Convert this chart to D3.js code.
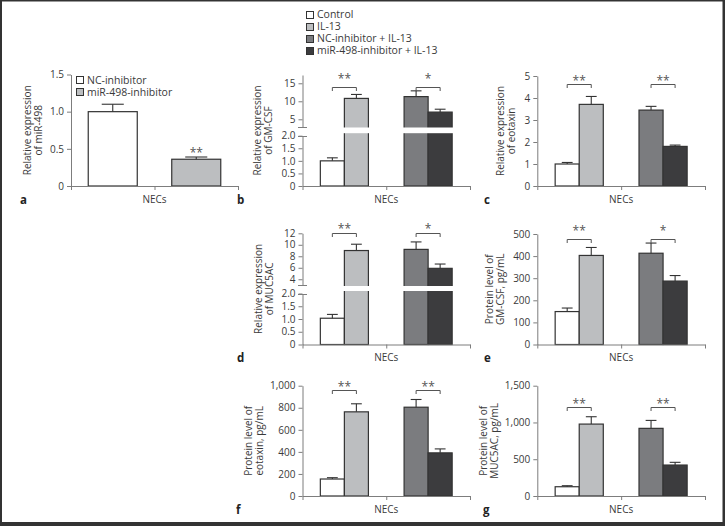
<!DOCTYPE html>
<html><head><meta charset="utf-8">
<script src="https://cdn.jsdelivr.net/npm/d3@7"></script>
<style>body{margin:0;background:#fff} svg{display:block} text{font-family:"Open Sans",sans-serif}</style>
</head><body><svg id="chart" width="725" height="526"></svg>
<script>
// ---------- data ----------
const categoriesA = ["NC-inhibitor", "miR-498-inhibitor"];
const categories = ["Control", "IL-13", "NC-inhibitor + IL-13", "miR-498-inhibitor + IL-13"];
const pairs = ["Control vs IL-13", "NC-inhibitor vs miR-498-inhibitor"];
const xLabel = "NECs";

const aMean = [1.0, 0.36], aErr = [0.10, 0.03];
const bMean = [1.0, 10.8, 11.3, 7.0], bErr = [0.12, 1.1, 1.6, 0.8];
const cMean = [1.0, 3.71, 3.45, 1.80], cErr = [0.07, 0.36, 0.17, 0.06];
const dMean = [1.03, 9.0, 9.2, 5.9], dErr = [0.15, 1.1, 1.3, 0.75];
const eMean = [149, 403, 413, 287], eErr = [16, 36, 46, 25];
const fMean = [154, 763, 805, 391], fErr = [12, 73, 70, 36];
const gMean = [126, 978, 920, 421], gErr = [14, 100, 108, 37];

const bSig = ["**", "*"], cSig = ["**", "**"], dSig = ["**", "*"];
const eSig = ["**", "*"], fSig = ["**", "**"], gSig = ["**", "**"];
const aSig = "**";

const ticksA = [0, 0.5, 1.0, 1.5];
const ticksLow = [0, 0.5, 1.0, 1.5, 2.0];
const ticksBHigh = [5, 10, 15];
const ticksC = [0, 1, 2, 3, 4, 5];
const ticksDHigh = [4, 6, 8, 10, 12];
const ticksE = [0, 100, 200, 300, 400, 500];
const ticksF = [0, 200, 400, 600, 800, 1000];
const ticksG = [0, 500, 1000, 1500];

// ---------- style ----------
const fillsA = ["#ffffff", "#bcbec0"];
const fills4 = ["#ffffff", "#bcbec0", "#7b7c7f", "#3c3c3e"];
const STROKE = "#333", AXIS = "#7d7d7d", TXT = "#3a3a3a";

const svg = d3.select("#chart");
svg.append("rect").attr("width", 725).attr("height", 526).attr("fill", "#333");
svg.append("rect").attr("x", 2).attr("y", 1.5).attr("width", 720.5).attr("height", 520.5).attr("fill", "#fff");

const dec1 = d => d === 0 ? "0" : d3.format(".1f")(d);
const intf = d3.format("d");
const comma = d3.format(",");

function styleAxis(sel) {
  sel.attr("font-family", null).attr("font-size", null);
  sel.select(".domain").attr("stroke", AXIS).attr("stroke-width", 1);
  sel.selectAll(".tick line").attr("stroke", AXIS);
  sel.selectAll(".tick text").attr("fill", TXT).style("font-size", "10px");
}

function panel(p) {
  const g = svg.append("g");
  const outer = d3.scaleBand().domain(p.groups).range([p.x0, p.x1]).paddingInner(p.pad).paddingOuter(p.pad / 2);
  const inner = d3.scaleBand().domain(d3.range(p.per)).range([0, outer.bandwidth()]);
  const bw = inner.bandwidth();
  const xOf = i => outer(p.groups[Math.floor(i / p.per)]) + inner(i % p.per);
  const cx = i => xOf(i) + bw / 2;

  let y, lo, hi, lin;
  if (p.brk) {
    lo = d3.scaleLinear().domain([0, 2]).range([p.y0, p.loTop]);
    hi = d3.scaleLinear().domain(p.hiDomain).range([p.hiBot, p.top]);
    y = v => v <= 2 ? lo(v) : hi(Math.max(v, p.hiDomain[0]));
  } else {
    lin = d3.scaleLinear().domain([0, p.max]).range([p.y0, p.top]);
    y = lin;
  }

  // bars
  g.append("g").selectAll("rect").data(p.mean).join("rect")
    .attr("x", (d, i) => xOf(i)).attr("y", d => y(d))
    .attr("width", bw).attr("height", d => p.y0 - y(d))
    .attr("fill", (d, i) => p.fills[i]).attr("stroke", STROKE).attr("stroke-width", 1.2);

  // error bars
  const eg = g.append("g").attr("stroke", STROKE).attr("stroke-width", 1.1).attr("fill", "none");
  const cap = bw * 0.45;
  p.mean.forEach((m, i) => {
    const yt = y(m + p.err[i]);
    eg.append("line").attr("x1", cx(i)).attr("x2", cx(i)).attr("y1", y(m)).attr("y2", yt);
    eg.append("line").attr("x1", cx(i) - cap / 2).attr("x2", cx(i) + cap / 2).attr("y1", yt).attr("y2", yt);
  });

  // break band
  if (p.brk) {
    g.append("rect").attr("x", p.x0 + 1).attr("width", p.x1 - p.x0)
      .attr("y", hi(p.hiDomain[0]) + 1).attr("height", lo(2) - 2.5 - hi(p.hiDomain[0]) - 1)
      .attr("fill", "#fff");
  }

  // y axes
  if (p.brk) {
    const aL = g.append("g").attr("transform", `translate(${p.x0},0)`)
      .call(d3.axisLeft(lo).tickValues(ticksLow).tickFormat(dec1).tickSize(4).tickSizeOuter(0).tickPadding(3));
    styleAxis(aL);
    const aH = g.append("g").attr("transform", `translate(${p.x0},0)`)
      .call(d3.axisLeft(hi).tickValues(p.hiTicks).tickFormat(intf).tickSize(4).tickSizeOuter(0).tickPadding(3));
    styleAxis(aH);
    // break marks
    [hi(p.hiDomain[0]), lo(2)].forEach(yy => {
      g.append("line").attr("x1", p.x0 - 4.5).attr("x2", p.x0 + 4.5)
        .attr("y1", Math.round(yy) + 0.5).attr("y2", Math.round(yy) + 0.5)
        .attr("stroke", AXIS);
    });
  } else {
    const aY = g.append("g").attr("transform", `translate(${p.x0},0)`)
      .call(d3.axisLeft(lin).tickValues(p.ticks).tickFormat(p.fmt).tickSize(4).tickSizeOuter(0).tickPadding(3));
    styleAxis(aY);
  }

  // x axis
  const xs = d3.scaleLinear().domain([0, 1]).range([p.x0, p.x1]);
  const aX = g.append("g").attr("transform", `translate(0,${p.y0})`)
    .call(d3.axisBottom(xs).tickValues([0, 0.5, 1]).tickFormat("").tickSize(4).tickSizeOuter(0));
  styleAxis(aX);
  g.append("text").attr("x", (p.x0 + p.x1) / 2).attr("y", p.y0 + 16.5)
    .attr("text-anchor", "middle").attr("fill", TXT).style("font-size", "10px").text(xLabel);

  // y title
  const midY = (p.y0 + p.top) / 2;
  p.title.forEach((t, k) => {
    const xx = p.x0 + p.titleDx[k] + 3.5;
    g.append("text").attr("transform", `translate(${xx},${midY}) rotate(-90)`)
      .attr("text-anchor", "middle").attr("fill", TXT).style("font-size", "10px").text(t);
  });

  // panel letter
  g.append("text").attr("x", p.letterX).attr("y", p.y0 + 17.5)
    .attr("fill", "#222").style("font-size", "11.5px").style("font-weight", "bold").text(p.letter);

  // significance
  if (p.sig) {
    const yb = Math.round(y(p.bracket)) + 0.5;
    p.sig.forEach((s, k) => {
      const xa = cx(2 * k), xb = cx(2 * k + 1);
      g.append("path").attr("d", `M${xa},${yb + 3.5}V${yb}H${xb}V${yb + 3.5}`)
        .attr("fill", "none").attr("stroke", "#555").attr("stroke-width", 1);
      g.append("text").attr("x", (xa + xb) / 2).attr("y", yb + p.starDy)
        .attr("text-anchor", "middle").attr("fill", "#555").style("font-size", "12px").text(s);
    });
  }
  if (p.single) {
    const i = p.mean.length - 1;
    g.append("text").attr("x", cx(i)).attr("y", y(p.mean[i] + p.err[i]) - 0.5)
      .attr("text-anchor", "middle").attr("fill", "#555").style("font-size", "12px").text(p.single);
  }
}

const X1 = [71, 238], X2 = [302.5, 470], X3 = [537.3, 705];
const R1 = 186, R2 = 344.5, R3 = 496;
const pad4 = 0.426;

panel({ groups: categoriesA, per: 1, pad: 0.413, x0: X1[0], x1: X1[1], y0: R1, top: 74.5, max: 1.5,
  ticks: ticksA, fmt: dec1, mean: aMean, err: aErr, fills: fillsA,
  title: ["Relative expression", "of miR-498"], titleDx: [-44, -33], letter: "a", letterX: 20, single: aSig });

panel({ groups: pairs, per: 2, pad: pad4, x0: X2[0], x1: X2[1], y0: R1, top: 75, brk: true,
  loTop: 135.7, hiDomain: [3, 17.3], hiBot: 126.5, hiTicks: ticksBHigh,
  mean: bMean, err: bErr, fills: fills4, title: ["Relative expression", "of GM-CSF"], titleDx: [-45, -34],
  letter: "b", letterX: 237, sig: bSig, bracket: 14, starDy: -4.5 });

panel({ groups: pairs, per: 2, pad: pad4, x0: X3[0], x1: X3[1], y0: R1, top: 76, max: 5,
  ticks: ticksC, fmt: intf, mean: cMean, err: cErr, fills: fills4,
  title: ["Relative expression", "of eotaxin"], titleDx: [-37, -26], letter: "c", letterX: 484,
  sig: cSig, bracket: 4.62, starDy: 0 });

panel({ groups: pairs, per: 2, pad: pad4, x0: X2[0], x1: X2[1], y0: R2, top: 233.3, brk: true,
  loTop: 293.5, hiDomain: [3, 12], hiBot: 285, hiTicks: ticksDHigh,
  mean: dMean, err: dErr, fills: fills4, title: ["Relative expression", "of MUC5AC"], titleDx: [-44, -33],
  letter: "d", letterX: 237, sig: dSig, bracket: 12, starDy: -0.5 });

panel({ groups: pairs, per: 2, pad: pad4, x0: X3[0], x1: X3[1], y0: R2, top: 234, max: 500,
  ticks: ticksE, fmt: intf, mean: eMean, err: eErr, fills: fills4,
  title: ["Protein level of", "GM-CSF, pg/mL"], titleDx: [-48, -37], letter: "e", letterX: 484,
  sig: eSig, bracket: 478, starDy: -4.5 });

panel({ groups: pairs, per: 2, pad: pad4, x0: X2[0], x1: X2[1], y0: R3, top: 385.7, max: 1000,
  ticks: ticksF, fmt: comma, mean: fMean, err: fErr, fills: fills4,
  title: ["Protein level of", "eotaxin, pg/mL"], titleDx: [-54, -43], letter: "f", letterX: 236,
  sig: fSig, bracket: 960, starDy: 0 });

panel({ groups: pairs, per: 2, pad: pad4, x0: X3[0], x1: X3[1], y0: R3, top: 385.7, max: 1500,
  ticks: ticksG, fmt: comma, mean: gMean, err: gErr, fills: fills4,
  title: ["Protein level of", "MUC5AC, pg/mL"], titleDx: [-54, -43], letter: "g", letterX: 483,
  sig: gSig, bracket: 1210, starDy: 0 });

// ---------- legends ----------
function legend(items, fills, x, yc0, step) {
  const lg = svg.append("g");
  items.forEach((t, i) => {
    const yc = yc0 + i * step;
    lg.append("rect").attr("x", x + 0.5).attr("y", Math.round(yc - 3.5) + 0.5).attr("width", 7).attr("height", 7)
      .attr("fill", fills[i]).attr("stroke", STROKE).attr("stroke-width", 1);
    lg.append("text").attr("x", x + 11).attr("y", yc + 3.8).attr("fill", TXT)
      .style("font-size", "10.5px").text(t);
  });
}
legend(categoriesA, fillsA, 76, 79.7, 12);
legend(categories, fills4, 306, 14, 12);
</script></body></html>
